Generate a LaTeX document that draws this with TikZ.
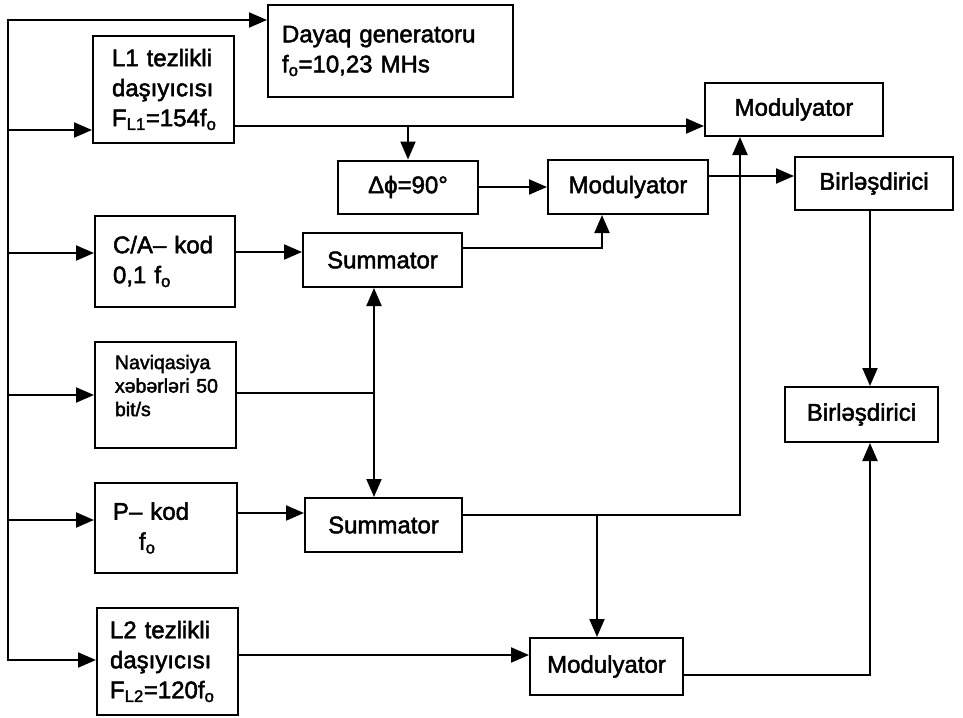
\documentclass[tikz,border=0pt]{standalone}
\usepackage{fontspec}
\setmainfont[FakeBold=2]{Liberation Sans}
\usetikzlibrary{arrows.meta}
\begin{document}
\begin{tikzpicture}[x=1pt,y=-1pt,line width=2pt,>={Triangle[length=18pt,width=15pt]},
  blk/.style={draw,inner sep=0pt,font=\fontsize{24}{30}\selectfont},
  txt/.style={blk,align=left,inner xsep=#1}]
\useasboundingbox (0,0) rectangle (963,717);
% sources on the left
\node[txt=14pt,text width=217pt,minimum height=92pt] (gen) at (390.5,51) {Dayaq~generatoru\\f\textsubscript{o}=10,23 MHs};
\node[txt=19pt,text width=103pt,minimum height=107pt] (l1) at (163.5,89.5) {L1~tezlikli\\daşıyıcısı\\F\textsubscript{L1}=154f\textsubscript{o}};
\node[txt=18pt,text width=104pt,minimum height=91pt] (ca) at (165,261.5) {C/A–~kod\\0,1 f\textsubscript{o}};
\node[txt=20pt,text width=101pt,minimum height=106pt,text depth=66pt,font=\fontsize{19.5}{23.5}\selectfont] (nv) at (165.5,395) {Naviqasiya\\xəbərləri~50\\bit/s};
\node[txt=18pt,text width=106pt,minimum height=90pt] (pk) at (166,528) {P–~kod\\\hspace*{26pt}f\textsubscript{o}};
\node[txt=13pt,text width=115pt,minimum height=107pt] (l2) at (167.5,661.5) {L2~tezlikli\\daşıyıcısı\\F\textsubscript{L2}=120f\textsubscript{o}};
% summators, modulators, combiners
\node[blk,minimum width=159pt,minimum height=54pt] (s1) at (382.5,260) {Summator};
\node[blk,minimum width=157pt,minimum height=54pt] (s2) at (383.5,525) {Summator};
\node[blk,minimum width=140pt,minimum height=53pt] (ph) at (408,187) {Δϕ=90°};
\node[blk,minimum width=160pt,minimum height=54pt] (m2) at (628,187) {Modulyator};
\node[blk,minimum width=178pt,minimum height=53pt] (m1) at (794,109.5) {Modulyator};
\node[blk,minimum width=158pt,minimum height=53pt] (b1) at (874,183.5) {Birləşdirici};
\node[blk,minimum width=153pt,minimum height=55pt] (b2) at (861.5,414.5) {Birləşdirici};
\node[blk,minimum width=153pt,minimum height=57pt] (m3) at (606.5,666.5) {Modulyator};
% feed bus
\coordinate (t0) at (8,20);\coordinate (bl2) at (8,660);
\draw[<->] (t0 -| gen.west) -- (t0) -- (bl2) -- (bl2 -| l2.west);
\foreach \n/\y in {l1/130,ca/253,nv/395,pk/520}{\coordinate (b\n) at (8,\y);\draw[->] (b\n) -- (b\n -| \n.west);}
% L1 branch
\coordinate (j1) at (408,126);
\draw[->] (j1 -| l1.east) -- (j1 -| m1.west);
\draw[->] (j1) -- (ph);\draw[->] (ph) -- (m2);
\coordinate (j2) at (750,176);
\draw[->] (j2 -| m2.east) -- (j2 -| b1.west);
% codes into summators
\coordinate (j4) at (270,252);\draw[->] (j4 -| ca.east) -- (j4 -| s1.west);
\coordinate (j6) at (270,513);\draw[->] (j6 -| pk.east) -- (j6 -| s2.west);
\coordinate (j5) at (374,393);
\draw (j5 -| nv.east) -- (j5);\draw[<->] (j5 |- s1.south) -- (j5 |- s2.north);
\coordinate (j3) at (602,248);
\draw[->] (j3 -| s1.east) -- (j3) -- (j3 |- m2.south);
\coordinate (j7) at (597,515);\coordinate (j8) at (740,515);
\draw[->] (j7 -| s2.east) -- (j8) -- (j8 |- m1.south);
\draw[->] (j7) -- (j7 |- m3.north);
% L2 branch
\coordinate (j9) at (400,655);\draw[->] (j9 -| l2.east) -- (j9 -| m3.west);
\coordinate (j10) at (870,675);
\draw[->] (j10 -| m3.east) -- (j10) -- (j10 |- b2.south);
\draw[->] (j10 |- b1.south) -- (j10 |- b2.north);
\end{tikzpicture}
\end{document}
